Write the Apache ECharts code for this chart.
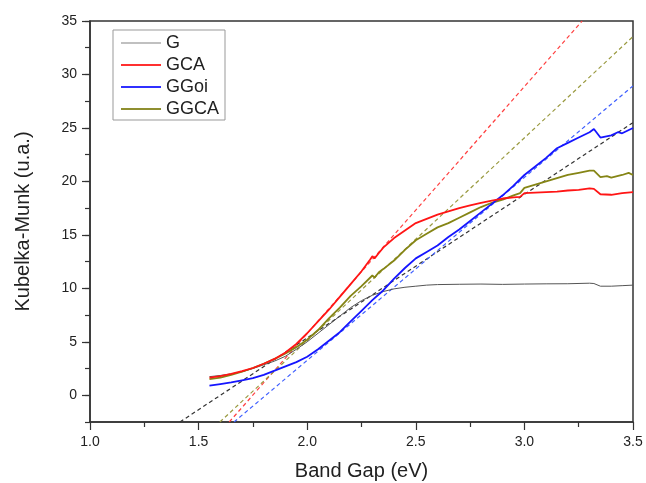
<!DOCTYPE html>
<html>
<head>
<meta charset="utf-8">
<script src="https://cdn.jsdelivr.net/npm/echarts@6/dist/echarts.min.js"></script>
<style>
html,body{margin:0;padding:0;background:#fff;}
#c{width:646px;height:483px;}
</style>
</head>
<body>
<div id="c"></div>
<script>
// ---- data ----
const gX = [1.55,1.60,1.65,1.70,1.75,1.80,1.85,1.90,1.95,2.00,2.05,2.10,2.15,2.20,2.25,2.30,2.35,2.40,2.45,2.50,2.55,2.60,2.70,2.80,2.90,3.00,3.10,3.20,3.30,3.32,3.35,3.40,3.45,3.50];
const gY = [1.74,1.85,2.0,2.2,2.5,2.85,3.2,3.65,4.3,5.0,5.8,6.6,7.4,8.2,8.85,9.35,9.7,9.95,10.1,10.2,10.3,10.35,10.38,10.4,10.37,10.4,10.42,10.43,10.48,10.45,10.2,10.2,10.25,10.3];

const gcaX = [1.55,1.60,1.65,1.70,1.75,1.80,1.85,1.90,1.95,2.00,2.05,2.10,2.15,2.20,2.25,2.29,2.30,2.31,2.33,2.35,2.40,2.45,2.50,2.55,2.60,2.65,2.70,2.75,2.80,2.85,2.90,2.95,2.98,3.00,3.05,3.10,3.15,3.20,3.25,3.30,3.32,3.35,3.40,3.45,3.50];
const gcaY = [1.65,1.8,2.0,2.25,2.55,2.95,3.4,4.0,4.8,5.8,6.9,8.0,9.2,10.4,11.6,12.7,13.0,12.8,13.3,13.8,14.7,15.4,16.1,16.5,16.9,17.2,17.5,17.75,18.0,18.2,18.4,18.5,18.55,18.9,18.95,19.0,19.05,19.15,19.2,19.35,19.3,18.8,18.75,18.9,19.0];

const ggoiX = [1.55,1.60,1.65,1.70,1.75,1.80,1.85,1.90,1.95,2.00,2.05,2.10,2.15,2.20,2.25,2.30,2.35,2.40,2.45,2.50,2.55,2.60,2.65,2.70,2.75,2.80,2.85,2.90,2.95,3.00,3.05,3.10,3.15,3.20,3.25,3.30,3.32,3.35,3.40,3.43,3.45,3.50];
const ggoiY = [0.9,1.05,1.2,1.4,1.6,1.9,2.3,2.7,3.1,3.6,4.3,5.1,5.9,6.9,7.9,8.9,9.8,10.9,11.9,12.8,13.4,14.0,14.8,15.5,16.3,17.1,17.9,18.7,19.6,20.6,21.4,22.2,23.1,23.6,24.1,24.6,24.9,24.1,24.3,24.6,24.5,25.0];

const ggcaX = [1.55,1.60,1.65,1.70,1.75,1.80,1.85,1.90,1.95,2.00,2.05,2.10,2.15,2.20,2.25,2.30,2.31,2.33,2.35,2.40,2.45,2.50,2.55,2.60,2.65,2.70,2.75,2.80,2.85,2.90,2.95,2.98,3.00,3.05,3.10,3.15,3.20,3.25,3.30,3.32,3.35,3.38,3.40,3.45,3.48,3.50];
const ggcaY = [1.5,1.65,1.9,2.2,2.55,2.95,3.4,3.9,4.5,5.2,6.1,7.2,8.2,9.3,10.2,11.2,11.0,11.5,11.8,12.6,13.6,14.5,15.1,15.7,16.1,16.6,17.1,17.6,18.0,18.3,18.7,18.9,19.4,19.7,20.0,20.3,20.6,20.8,21.0,21.0,20.4,20.5,20.35,20.6,20.8,20.6];

// tangent (dashed) lines: two endpoints each
const fitG    = [[1.414,-2.5],[3.5,25.5]];
const fitGCA  = [[1.641,-2.5],[3.266,35]];
const fitGGoi = [[1.663,-2.5],[3.5,28.93]];
const fitGGCA = [[1.598,-2.5],[3.5,33.55]];

const xTicks = [1.0,1.5,2.0,2.5,3.0,3.5];
const yTicks = [0,5,10,15,20,25,30,35];
const names = ['G','GCA','GGoi','GGCA'];

function pairs(xs, ys){ return xs.map((x,i)=>[x, ys[i]]); }

const FONT = 'Liberation Sans, Arial, sans-serif';
const chart = echarts.init(document.getElementById('c'), null, {renderer:'canvas'});

function solid(name, data, color, width){
  return {name, type:'line', data, symbol:'none', showSymbol:false, animation:false,
    lineStyle:{color, width}, itemStyle:{color}, z:3};
}
function dashed(data, color){
  return {type:'line', data, symbol:'none', showSymbol:false, animation:false, silent:true,
    lineStyle:{color, width:1.2, type:[4,3]}, itemStyle:{color}, z:2};
}
const ICON = 'path://M0,0 L40,0 L40,2 L0,2 Z';

chart.setOption({
  backgroundColor:'#fff',
  animation:false,
  grid:{left:90, right:13, top:21, bottom:61, containLabel:false, outerBoundsMode:'none',
    show:true, borderColor:'#333', borderWidth:1.5, backgroundColor:'transparent'},
  legend:{
    show:true, orient:'vertical', left:113, top:30,
    padding:[4,6,2,8], itemGap:4, itemWidth:40, itemHeight:2,
    borderColor:'#999', borderWidth:1, backgroundColor:'#fff',
    textStyle:{fontFamily:FONT, fontSize:18, color:'#222', lineHeight:18},
    data:[
      {name:'G', icon:ICON, itemStyle:{color:'#c0c0c0'}},
      {name:'GCA', icon:ICON, itemStyle:{color:'#ff3030'}},
      {name:'GGoi', icon:ICON, itemStyle:{color:'#3030ff'}},
      {name:'GGCA', icon:ICON, itemStyle:{color:'#8f8f30'}}
    ]
  },
  xAxis:[{
    type:'value', min:1.0, max:3.5, interval:0.5,
    name:'Band Gap (eV)', nameLocation:'middle', nameGap:39,
    nameTextStyle:{fontFamily:FONT, fontSize:20, color:'#222'},
    axisLine:{show:true, onZero:false, lineStyle:{color:'#333', width:1.5}},
    axisTick:{show:true, inside:false, length:8, lineStyle:{color:'#333', width:1.2}},
    minorTick:{show:true, splitNumber:2, length:5, lineStyle:{color:'#333', width:1.2}},
    splitLine:{show:false},
    axisLabel:{fontFamily:FONT, fontSize:14, color:'#222', margin:13,
      formatter:(v)=> xTicks.includes(+v.toFixed(2)) ? v.toFixed(1) : ''}
  }],
  yAxis:[{
    type:'value', min:-2.5, max:35, interval:2.5,
    axisLine:{show:true, onZero:false, lineStyle:{color:'#333', width:1.5}},
    axisTick:{show:true, inside:false, length:5, lineStyle:{color:'#333', width:1.2}},
    splitLine:{show:false},
    axisLabel:{show:false}
  },{
    type:'value', min:-2.5, max:35, position:'left',
    name:'Kubelka-Munk (u.a.)', nameLocation:'middle', nameGap:57, nameRotate:90,
    nameTextStyle:{fontFamily:FONT, fontSize:20, color:'#222'},
    axisLine:{show:false},
    axisTick:{show:true, inside:false, length:8, customValues:yTicks, lineStyle:{color:'#333', width:1.2}},
    splitLine:{show:false},
    axisLabel:{show:true, customValues:yTicks, fontFamily:FONT, fontSize:14, color:'#222', margin:13,
      formatter:(v)=> String(v)}
  }],
  series:[
    dashed(fitG, '#333333'),
    dashed(fitGCA, '#ff4040'),
    dashed(fitGGoi, '#4060ff'),
    dashed(fitGGCA, '#9a9a40'),
    solid('G', pairs(gX,gY), '#555555', 1),
    solid('GGCA', pairs(ggcaX,ggcaY), '#858515', 1.8),
    solid('GGoi', pairs(ggoiX,ggoiY), '#1515ff', 1.8),
    solid('GCA', pairs(gcaX,gcaY), '#ff1515', 1.8)
  ]
});
</script>
</body>
</html>
